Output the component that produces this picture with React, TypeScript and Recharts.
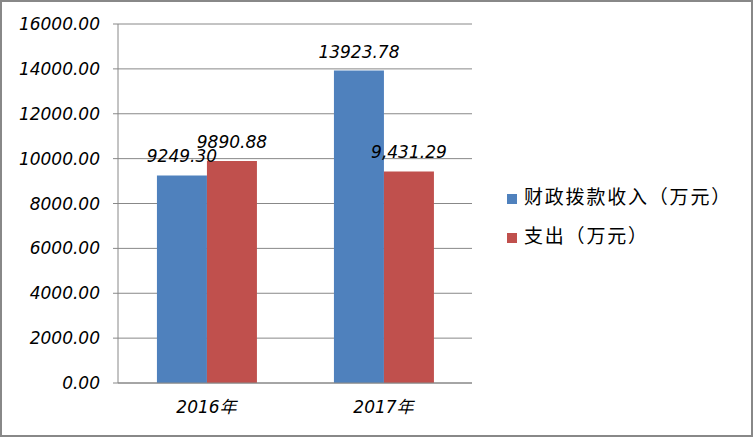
import { BarChart, Bar, XAxis, YAxis, CartesianGrid, LabelList } from 'recharts'

const categories = ['2016年', '2017年']
const incomeValues = [9249.3, 13923.78]
const expenseValues = [9890.88, 9431.29]
const incomeLabels = ['9249.30', '13923.78']
const expenseLabels = ['9890.88', '9,431.29']
const seriesNames = ['财政拨款收入（万元）', '支出（万元）']
const yTicks = [0, 2000, 4000, 6000, 8000, 10000, 12000, 14000, 16000]

const BLUE = '#4F81BD'
const RED = '#C0504D'
const GRID = '#888888'
const NUM_FONT = '"DejaVu Sans", "Noto Sans CJK SC", sans-serif'

const data = categories.map((c, i) => ({
  name: c,
  income: incomeValues[i],
  expense: expenseValues[i],
  incomeLabel: incomeLabels[i],
  expenseLabel: expenseLabels[i],
}))

function LegendBox() {
  const items = [
    { name: seriesNames[0], color: BLUE },
    { name: seriesNames[1], color: RED },
  ]
  return (
    <div
      style={{
        position: 'absolute',
        left: 507,
        top: 176,
        fontFamily: '"Noto Sans CJK SC", sans-serif',
        fontSize: 19,
        letterSpacing: 1.8,
        color: '#000',
      }}
    >
      {items.map((it) => (
        <div key={it.name} style={{ display: 'flex', alignItems: 'center', height: 39 }}>
          <span style={{ width: 10, height: 10, background: it.color, marginRight: 7, marginTop: 6 }} />
          <span>{it.name}</span>
        </div>
      ))}
    </div>
  )
}

export default function App() {
  return (
    <div style={{ position: 'fixed', left: 0, top: 0, width: 753, height: 437, background: '#fff' }}>
      <BarChart
        width={753}
        height={437}
        data={data}
        margin={{ top: 24, right: 281, left: 0, bottom: 27 }}
        barCategoryGap="22%"
        barGap={0}
      >
        <CartesianGrid stroke={GRID} vertical={false} />
        <XAxis
          xAxisId="edge"
          type="number"
          domain={[0, 2]}
          ticks={[0, 1, 2]}
          allowDataOverflow
          height={0}
          axisLine={false}
          tickLine={{ stroke: GRID }}
          tickSize={5}
          tickFormatter={() => ''}
        />
        <XAxis
          xAxisId="cat"
          dataKey="name"
          height={27}
          axisLine={{ stroke: GRID }}
          tickLine={false}
          tickSize={0}
          tickMargin={18}
          tick={{ fontSize: 17, fontStyle: 'italic', fill: '#000', fontFamily: NUM_FONT }}
        />
        <YAxis
          width={118}
          domain={[0, 16000]}
          ticks={yTicks}
          interval={0}
          tickFormatter={(v: number) => v.toFixed(2)}
          axisLine={{ stroke: GRID }}
          tickLine={{ stroke: GRID }}
          tickSize={5}
          tickMargin={13}
          tick={{ fontSize: 17, fontStyle: 'italic', fill: '#000', fontFamily: NUM_FONT }}
        />
        <Bar xAxisId="cat" dataKey="income" name={seriesNames[0]} fill={BLUE} isAnimationActive={false}>
          <LabelList
            dataKey="incomeLabel"
            position="top"
            offset={13}
            style={{ fontSize: 17, fontStyle: 'italic', fill: '#000', fontFamily: NUM_FONT }}
          />
        </Bar>
        <Bar xAxisId="cat" dataKey="expense" name={seriesNames[1]} fill={RED} isAnimationActive={false}>
          <LabelList
            dataKey="expenseLabel"
            position="top"
            offset={13}
            style={{ fontSize: 17, fontStyle: 'italic', fill: '#000', fontFamily: NUM_FONT }}
          />
        </Bar>
      </BarChart>
      <LegendBox />
      <div
        style={{
          position: 'absolute',
          left: 0,
          top: 0,
          width: 753,
          height: 437,
          boxSizing: 'border-box',
          border: '2px solid #888',
          pointerEvents: 'none',
        }}
      />
    </div>
  )
}
